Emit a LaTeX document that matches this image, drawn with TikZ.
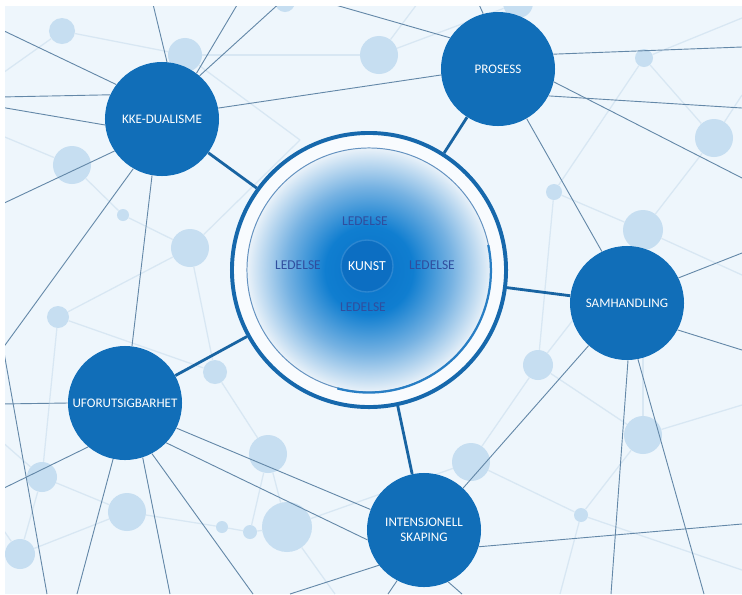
\documentclass[tikz,border=0pt]{standalone}
\usepackage{fontspec}
\setmainfont{Carlito}
\usepackage{xcolor}
\usetikzlibrary{shapes,arrows,positioning,calc}

\definecolor{paper}{RGB}{238,246,252}
\definecolor{nodeblue}{RGB}{17,110,184}
\definecolor{dotblue}{RGB}{198,222,241}
\definecolor{faintline}{RGB}{216,231,243}
\definecolor{webgrey}{RGB}{100,136,168}
\definecolor{spokeblue}{RGB}{24,100,162}
\definecolor{ringblue}{RGB}{22,104,172}
\definecolor{innerrim}{RGB}{100,146,192}
\definecolor{rimglow}{RGB}{40,126,196}
\definecolor{ledblue}{RGB}{48,78,158}
\definecolor{glowA}{RGB}{8,114,200}
\definecolor{glowB}{RGB}{16,126,208}
\definecolor{glowC}{RGB}{118,178,226}
\definecolor{glowD}{RGB}{234,242,249}
\definecolor{kunstfill}{RGB}{12,110,194}
\definecolor{kunstrim}{RGB}{44,134,208}

\pgfdeclareradialshading{kunstglow}{\pgfpoint{0bp}{0bp}}{%
  color(0bp)=(glowA); color(9bp)=(glowB); color(17bp)=(glowC);
  color(25bp)=(glowD); color(50bp)=(glowD)}

\tikzset{
  theme/.style={circle, fill=nodeblue, text=white, minimum size=2.85cm,
    inner sep=0pt, align=center, font=\fontsize{9.3}{11}\selectfont},
  dot/.style={circle, fill=dotblue, inner sep=0pt},
  faint/.style={draw=faintline, line width=0.9pt},
  web/.style={draw=webgrey, line width=0.65pt},
  spoke/.style={draw=spokeblue, line width=2pt},
  ledelse/.style={text=ledblue, font=\fontsize{9.6}{11}\selectfont}
}

\begin{document}
\begin{tikzpicture}[x=0.025cm, y=-0.025cm]
    \useasboundingbox (0,0) rectangle (742,594);
    \clip (5,6) rectangle (742,594);
    \fill[paper] (5,6) rectangle (742,594);

    % Free ends of the web
    \coordinate (t1) at (152,0);  \coordinate (t2) at (240,0);
    \coordinate (t3) at (283,0);  \coordinate (t4) at (318,0);
    \coordinate (t5) at (477,0);
    \coordinate (l1) at (0,29);   \coordinate (l2) at (0,97);
    \coordinate (l3) at (0,107);  \coordinate (l4) at (0,205);
    \coordinate (l5) at (0,352);  \coordinate (l6) at (0,330);
    \coordinate (l7) at (0,404);  \coordinate (l8) at (0,490);
    \coordinate (r1) at (742,47); \coordinate (r2) at (742,108);
    \coordinate (r3) at (742,178); \coordinate (r4) at (742,253);
    \coordinate (r5) at (742,350); \coordinate (r6) at (742,524);
    \coordinate (d1) at (47,594);  \coordinate (d2) at (77,594);
    \coordinate (d3) at (170,594); \coordinate (d4) at (253,594);
    \coordinate (d5) at (290,594); \coordinate (d6) at (388,594);
    \coordinate (d7) at (462,594); \coordinate (d8) at (611,594);
    \coordinate (d9) at (704,594);
    % free ends of the faint lines
    \coordinate (f1) at (0,75);    \coordinate (f2) at (742,18);
    \coordinate (f3) at (742,95);  \coordinate (f4) at (742,275);
    \coordinate (f5) at (742,405); \coordinate (f6) at (742,570);
    \coordinate (f7) at (560,594); \coordinate (f8) at (335,594);
    \coordinate (f9) at (0,525);   \coordinate (f10) at (0,440);
    \coordinate (f11) at (0,135);  \coordinate (f12) at (300,140);
    \coordinate (f13) at (420,0);  \coordinate (f14) at (600,0);

    % Background dots
    \foreach \n/\x/\y/\r in {b1/62/31/13, b2/185/55/17, b3/72/165/19,
        b4/123/215/6, b5/190/248/19, b6/285/2/10, b7/379/55/19,
        b8/518/3/15, b9/644/58/9, b10/714/138/19, b11/554/192/8,
        b12/643/230/20, b13/58/317/11, b14/215/372/12, b15/268/454/19,
        b16/42/477/15, b17/127/512/19, b18/222/527/6, b19/250/532/7,
        b20/287/527/25, b21/20/554/15, b22/538/365/15, b23/471/462/19,
        b24/643/435/19, b25/581/515/7}
        \node[dot, minimum size=\r*0.05cm] (\n) at (\x,\y) {};

    % Faint lines
    \foreach \a/\b in {b1/b2, b1/f1, b2/b7, b3/b4, b4/b5, b3/f11, b5/b13,
        b5/b14, b13/b14, b13/b16, b14/b15, b15/b20, b16/b17, b17/b18,
        b18/b19, b19/b20, b17/b21, b20/b23, b23/b22, b22/b24, b24/b25,
        b25/b23, b11/b12, b11/b9, b9/b10, b10/b12, b12/b22, b7/b8,
        b12/b24, b21/b16, b9/f2, b10/f3, b12/f4, b24/f5, b25/f6, b25/f7,
        b20/f8, b21/f9, b16/f10, b2/f12, b7/f13, b8/f14, b11/b22,
        b15/b19, b5/f12}
        \draw[faint] (\a) -- (\b);

    % Centre
    \node[circle, minimum size=6.85cm, fill=white!60!paper, draw=ringblue,
        line width=2.8pt] (core) at (369,270) {};
    \node[circle, minimum size=6.1cm, shading=kunstglow, draw=innerrim,
        line width=0.7pt] (glow) at (core) {};
    \draw[rimglow, line width=1.6pt] (glow.-105) arc[start angle=-105,
        end angle=12, radius=3.05cm];
    \node[circle, minimum size=1.3cm, fill=kunstfill, draw=kunstrim,
        line width=1pt, text=white, font=\fontsize{9.8}{11}\selectfont]
        (kunst) at (367,266) {KUNST};
    \node[ledelse] (led1) at (365,221) {LEDELSE};
    \node[ledelse] (led2) at (298,265) {LEDELSE};
    \node[ledelse] (led3) at (432,265) {LEDELSE};
    \node[ledelse] (led4) at (363,307) {LEDELSE};

    % Theme circles
    \node[theme] (kke) at (162,119) {KKE-DUALISME};
    \node[theme] (pro) at (498,69) {PROSESS};
    \node[theme] (sam) at (627,303) {SAMHANDLING};
    \node[theme] (ufo) at (125,403) {UFORUTSIGBARHET};
    \node[theme] (int) at (424,530) {INTENSJONELL\\SKAPING};

    % Web
    \draw[web] (kke.143) -- (l1);
    \draw[web] (kke.155) -- (l2);
    \draw[web] (kke.186) -- (l3);
    \draw[web] (kke.214) -- (l4);
    \draw[web] (kke.240) -- (l5);
    \draw[web] (kke.260) -- (ufo.83);
    \draw[web] (kke.85) -- (t1);
    \draw[web] (kke.53) -- (t2);
    \draw[web] (kke.49) -- (t3);
    \draw[web] (kke.11) -- (pro.186);
    \draw[web] (pro.147) -- (t4);
    \draw[web] (pro.105) -- (t5);
    \draw[web] (pro.15) -- (r1);
    \draw[web] (pro.332) -- (r2);
    \draw[web] (pro.347) -- (r3);
    \draw[web] (pro.300) -- (sam.116);
    \draw[web] (sam.26) -- (r4);
    \draw[web] (sam.332) -- (r5);
    \draw[web] (sam.271) -- (d8);
    \draw[web] (sam.281) -- (d9);
    \draw[web] (sam.228) -- (int.47);
    \draw[web] (int.343) -- (r6);
    \draw[web] (int.218) -- (d5);
    \draw[web] (int.242) -- (d6);
    \draw[web] (int.295) -- (d7);
    \draw[web] (ufo.334) -- (int.159);
    \draw[web] (ufo.316) -- (int.190);
    \draw[web] (ufo.180) -- (l7);
    \draw[web] (ufo.230) -- (l8);
    \draw[web] (ufo.258) -- (d2);
    \draw[web] (ufo.288) -- (d3);
    \draw[web] (ufo.298) -- (d4);
    \draw[web] (l6) -- (d1);

    % Spokes
    \foreach \n in {kke,pro,sam,ufo,int}
        \draw[spoke] (\n) -- (core);
\end{tikzpicture}
\end{document}
